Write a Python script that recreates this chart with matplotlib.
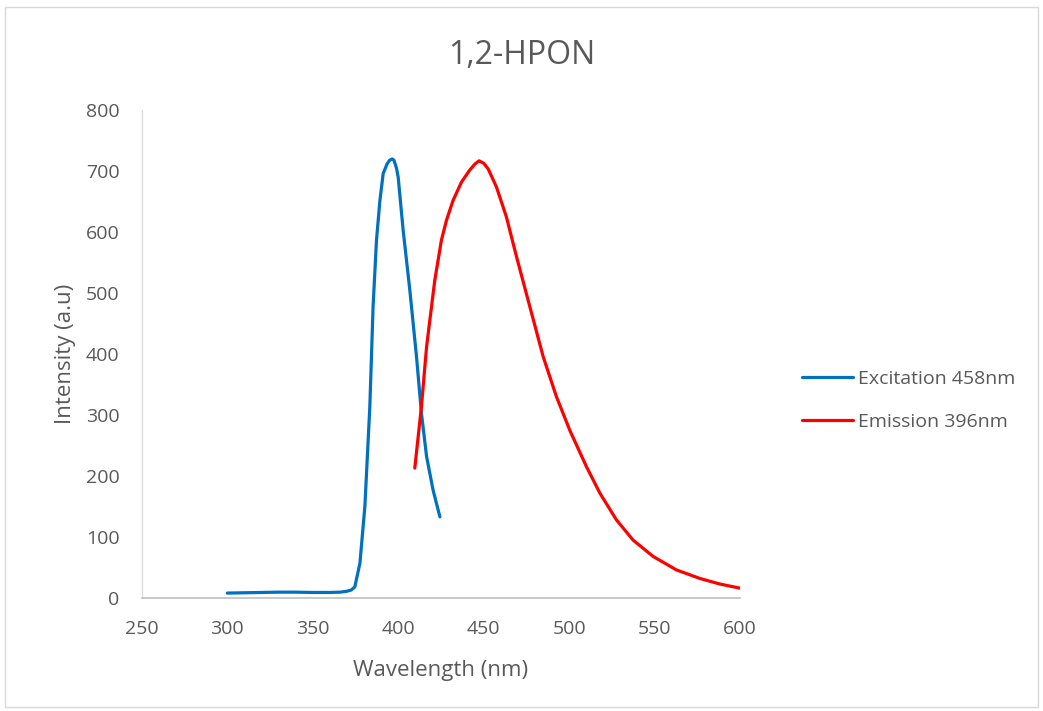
import matplotlib.pyplot as plt
from matplotlib.patches import Rectangle

# excitation spectrum
ex_wl = [300, 310, 320, 330, 340, 350, 360, 366, 370, 372.5, 374.6, 377.6, 380.5, 383.4,
         385.3, 387.3, 389.3, 391.2, 393.5, 395, 396.5, 397.5, 399, 400, 402.9, 406.8,
         410.7, 413.6, 416.6, 420.4, 424.4]
ex_int = [8, 8.5, 9, 9.5, 9.5, 9, 9, 9.5, 11, 13, 18, 57, 150, 314,
          478, 587, 652, 696, 712, 718, 720, 718, 705, 690, 603, 505,
          396, 303, 232, 177, 133]

# emission spectrum
em_wl = [409.7, 413.6, 416.6, 419.5, 421.4, 425.3, 428.3, 432.1, 437.0, 441.9, 445, 447.3,
         450, 452.6, 457.5, 463.3, 469.2, 477.0, 484.8, 492.6, 500.4, 510.2, 518.0,
         527.7, 537.4, 549.2, 562.8, 576.5, 588, 600]
em_int = [213, 314, 412, 478, 521, 587, 620, 652, 682, 702, 712, 717,
          713, 704, 674, 625, 560, 478, 396, 330, 275, 215, 172,
          128, 95, 68, 46, 32, 23, 16]

grey = "#595959"
plt.rcParams['font.family'] = ['Open Sans', 'DejaVu Sans']

fig = plt.figure(figsize=(10.43, 7.11), dpi=100)
ax = fig.add_axes([0.136, 0.159, 0.5735, 0.686])

ax.plot(ex_wl, ex_int, color="#0070C0", lw=2.3, label="Excitation 458nm",
        solid_capstyle="round")
ax.plot(em_wl, em_int, color="#FF0000", lw=2.3, label="Emission 396nm",
        solid_capstyle="round")

ax.set_xlim(250, 600)
ax.set_ylim(0, 800)
ax.set_xticks(range(250, 601, 50))
ax.set_yticks(range(0, 801, 100))
ax.tick_params(length=0, labelsize=14, colors=grey)
ax.tick_params(axis="x", pad=16)
ax.tick_params(axis="y", pad=16)

for s in ["top", "right"]:
    ax.spines[s].set_visible(False)
ax.spines["bottom"].set_color("#bfbfbf")
ax.spines["left"].set_color("#d9d9d9")
ax.spines["bottom"].set_linewidth(1.2)
ax.spines["left"].set_linewidth(0.8)

ax.set_xlabel("Wavelength (nm)", fontsize=16, color=grey, labelpad=16)
ax.set_ylabel("Intensity (a.u)", fontsize=16, color=grey, labelpad=7)
fig.text(0.5, 0.922, "1,2-HPON", fontsize=23, color=grey, ha="center", va="center")

leg = ax.legend(loc="center left", bbox_to_anchor=(1.075, 0.405), frameon=False,
                fontsize=14, handlelength=2.6, handletextpad=0.25, labelspacing=1.3)
for t in leg.get_texts():
    t.set_color(grey)

# chart area border
fig.patches.append(Rectangle((0.005, 0.005), 0.99, 0.985, transform=fig.transFigure,
                             fill=False, edgecolor="#d9d9d9", lw=1))

fig.savefig("out.png", dpi=100)
